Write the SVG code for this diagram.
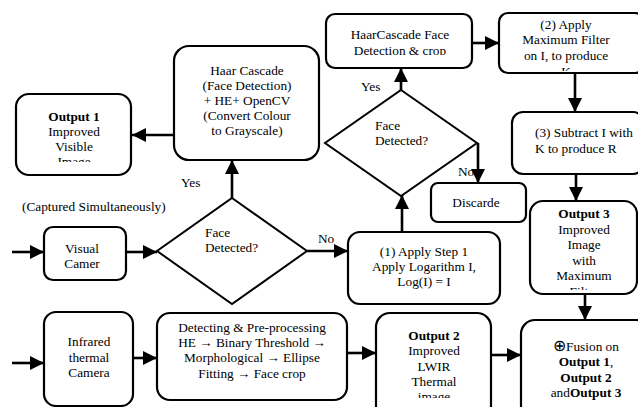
<svg xmlns="http://www.w3.org/2000/svg" width="638" height="407" viewBox="0 0 638 407">
<style>
.box{fill:#fff;stroke:#000;stroke-width:2.2}
.dia{fill:#fff;stroke:#000;stroke-width:2}
.c{fill:none;stroke:#000;stroke-width:2.6}
text{font-family:"Liberation Serif","Times New Roman",serif;font-size:13.3px;fill:#000}
.m{text-anchor:middle}
.b{font-weight:bold}
</style>
<defs>
<marker id="ah" markerUnits="userSpaceOnUse" markerWidth="15" markerHeight="14" refX="14" refY="7" orient="auto">
<path d="M0,0 L14,7 L0,14 Z" fill="#000"/>
</marker>
<clipPath id="cO1"><rect x="16" y="94" width="115" height="68"/></clipPath>
<clipPath id="cHC"><rect x="326" y="14" width="146" height="41"/></clipPath>
<clipPath id="cA2"><rect x="499" y="13" width="139" height="58"/></clipPath>
<clipPath id="cO3"><rect x="530" y="201" width="108" height="89"/></clipPath>
<clipPath id="cO2"><rect x="376" y="313" width="115" height="85"/></clipPath>
</defs>

<g id="connectors">
<line class="c" x1="12" y1="252" x2="44" y2="252" marker-end="url(#ah)"/>
<line class="c" x1="126" y1="252" x2="157" y2="252" marker-end="url(#ah)"/>
<line class="c" x1="232" y1="198" x2="232" y2="160" marker-end="url(#ah)"/>
<line class="c" x1="174" y1="135" x2="132" y2="135" marker-end="url(#ah)"/>
<line class="c" x1="307" y1="251" x2="348" y2="251" marker-end="url(#ah)"/>
<line class="c" x1="402" y1="232" x2="402" y2="195" marker-end="url(#ah)"/>
<line class="c" x1="401" y1="90" x2="401" y2="68" marker-end="url(#ah)"/>
<line class="c" x1="478" y1="143" x2="478" y2="183" marker-end="url(#ah)"/>
<line class="c" x1="472" y1="43" x2="499" y2="43" marker-end="url(#ah)"/>
<line class="c" x1="575" y1="73" x2="575" y2="112" marker-end="url(#ah)"/>
<line class="c" x1="576" y1="174" x2="576" y2="201" marker-end="url(#ah)"/>
<line class="c" x1="585" y1="294" x2="585" y2="320" marker-end="url(#ah)"/>
<line class="c" x1="12" y1="363" x2="44" y2="363" marker-end="url(#ah)"/>
<line class="c" x1="133" y1="358" x2="157" y2="358" marker-end="url(#ah)"/>
<line class="c" x1="347" y1="353" x2="376" y2="353" marker-end="url(#ah)"/>
<line class="c" x1="491" y1="355" x2="521" y2="355" marker-end="url(#ah)"/>
<text x="181" y="187">Yes</text>
<text x="318" y="243">No</text>
<text x="361" y="91">Yes</text>
<text x="458" y="176">No</text>
</g>

<g id="output1">
<rect class="box" x="16" y="94" width="115" height="81" rx="13"/>
<g clip-path="url(#cO1)">
<text class="m b" x="74" y="121">Output 1</text>
<text class="m" x="74" y="136">Improved</text>
<text class="m" x="74" y="151">Visible</text>
<text class="m" x="74" y="166">Image</text>
</g>
</g>

<g id="haar">
<rect class="box" x="174" y="46" width="145" height="114" rx="15"/>
<text class="m" x="247" y="75">Haar Cascade</text>
<text class="m" x="247" y="90">(Face Detection)</text>
<text class="m" x="247" y="105">+ HE+ OpenCV</text>
<text class="m" x="247" y="120">(Convert Colour</text>
<text class="m" x="247" y="135">to Grayscale)</text>
</g>

<g id="haarcrop">
<rect class="box" x="326" y="14" width="146" height="54" rx="9"/>
<g clip-path="url(#cHC)">
<text class="m" x="400" y="39">HaarCascade Face</text>
<text class="m" x="400" y="55">Detection &amp; crop</text>
</g>
</g>

<g id="maxfilter">
<rect class="box" x="499" y="13" width="145" height="60" rx="9"/>
<g clip-path="url(#cA2)">
<text class="m" x="566" y="29">(2) Apply</text>
<text class="m" x="566" y="44">Maximum Filter</text>
<text class="m" x="566" y="60">on I, to produce</text>
<text class="m" x="566" y="76">K</text>
</g>
</g>

<g id="subtract">
<rect class="box" x="512" y="112" width="132" height="62" rx="11"/>
<text x="535" y="137">(3) Subtract I with</text>
<text x="535" y="153">K to produce R</text>
</g>

<g id="diamond2">
<polygon class="dia" points="401,90 477,143 401,196 325,143"/>
<text x="375" y="130">Face</text>
<text x="375" y="145">Detected?</text>
</g>

<g id="discard">
<rect class="box" x="431" y="183" width="95" height="39" rx="7"/>
<text class="m" x="476" y="207">Discarde</text>
</g>

<g id="captured">
<text x="22" y="211">(Captured Simultaneously)</text>
</g>

<g id="visual">
<rect class="box" x="44" y="227" width="82" height="53" rx="9"/>
<text class="m" x="82" y="253">Visual</text>
<text class="m" x="82" y="268">Camer</text>
</g>

<g id="diamond1">
<polygon class="dia" points="232,198 307,251 232,304 157,251"/>
<text x="205" y="237">Face</text>
<text x="205" y="252">Detected?</text>
</g>

<g id="logarithm">
<rect class="box" x="348" y="232" width="152" height="72" rx="12"/>
<text class="m" x="424" y="256">(1) Apply Step 1</text>
<text class="m" x="424" y="271">Apply Logarithm I,</text>
<text class="m" x="424" y="286">Log(I) = I</text>
</g>

<g id="output3">
<rect class="box" x="530" y="201" width="107" height="93" rx="13"/>
<g clip-path="url(#cO3)">
<text class="m b" x="584" y="218">Output 3</text>
<text class="m" x="584" y="233.5">Improved</text>
<text class="m" x="584" y="249">Image</text>
<text class="m" x="584" y="264.5">with</text>
<text class="m" x="584" y="280">Maximum</text>
<text class="m" x="584" y="295.5">Filter</text>
</g>
</g>

<g id="infrared">
<rect class="box" x="44" y="312" width="89" height="94" rx="12"/>
<text class="m" x="89" y="346">Infrared</text>
<text class="m" x="89" y="362">thermal</text>
<text class="m" x="89" y="377">Camera</text>
</g>

<g id="detecting">
<rect class="box" x="157" y="313" width="190" height="87" rx="13"/>
<text class="m" x="252" y="332">Detecting &amp; Pre-processing</text>
<text class="m" x="252" y="347">HE → Binary Threshold →</text>
<text class="m" x="252" y="362">Morphological → Ellipse</text>
<text class="m" x="252" y="378">Fitting → Face crop</text>
</g>

<g id="output2">
<rect class="box" x="376" y="313" width="115" height="110" rx="14"/>
<g clip-path="url(#cO2)">
<text class="m b" x="434" y="340">Output 2</text>
<text class="m" x="434" y="355">Improved</text>
<text class="m" x="434" y="371">LWIR</text>
<text class="m" x="434" y="386">Thermal</text>
<text class="m" x="434" y="401">image</text>
</g>
</g>

<g id="fusion">
<rect class="box" x="521" y="320" width="130" height="100" rx="14"/>
<text class="m" x="586" y="351"><tspan font-size="16px">⊕</tspan>Fusion on</text>
<text class="m b" x="586" y="366">Output 1<tspan font-weight="normal">,</tspan></text>
<text class="m b" x="586" y="382">Output 2</text>
<text class="m" x="586" y="397">and<tspan font-weight="bold">Output 3</tspan></text>
</g>
</svg>
